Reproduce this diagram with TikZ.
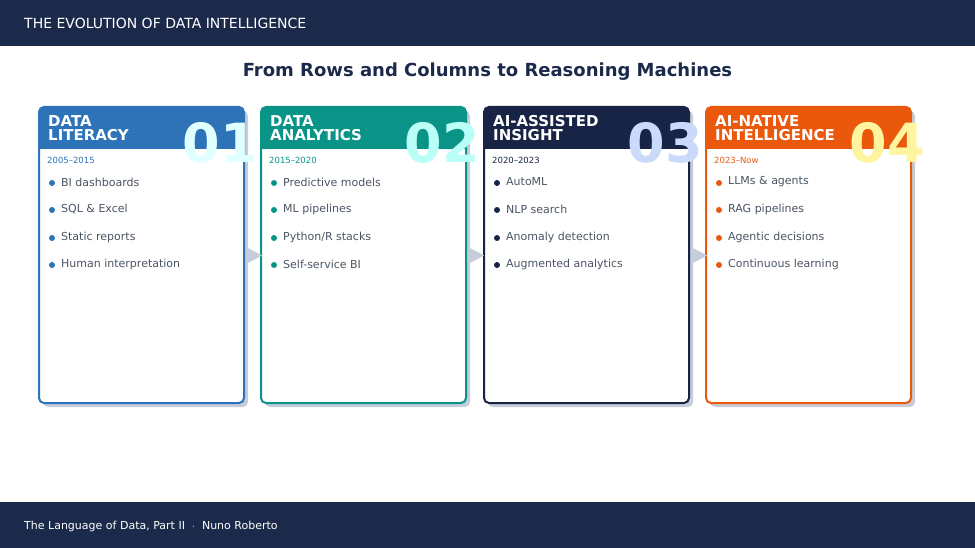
\documentclass[tikz,border=0pt]{standalone}
\usepackage{fontspec}
\setmainfont{DejaVu Sans}
\definecolor{navy}{HTML}{1B2A4A}
\definecolor{cblue}{HTML}{2E73B8}
\definecolor{cteal}{HTML}{0A9488}
\definecolor{cnavy}{HTML}{172445}
\definecolor{corange}{HTML}{EA580C}
\definecolor{txt}{HTML}{4B5563}
\definecolor{shad}{HTML}{C5CCDA}
\begin{document}
\begin{tikzpicture}[x=1pt,y=-1pt,
  hdrtext/.style={font=\bfseries\fontsize{15}{15}\selectfont,white,anchor=north west,align=left,inner sep=0},
  bul/.style={font=\fontsize{11}{11}\selectfont,text=txt,anchor=west,inner sep=0},
  datet/.style={font=\fontsize{8.5}{8.5}\selectfont,anchor=west,inner sep=0},
  num/.style={font=\bfseries\fontsize{54}{54}\selectfont,anchor=base east,inner sep=0},
  arr/.style={fill=shad,draw=none}]
\useasboundingbox (0,0) rectangle (975,548);
\fill[navy] (0,0) rectangle (975,46);
\fill[navy] (0,502) rectangle (975,548);
\node[font=\fontsize{14}{14}\selectfont,white,anchor=west,inner sep=0] (hdr) at (24,23) {THE EVOLUTION OF DATA INTELLIGENCE};
\node[font=\fontsize{11}{11}\selectfont,white,anchor=west,inner sep=0] (ftr) at (24,526) {The Language of Data, Part II \ $\cdot$ \ Nuno Roberto};
\node[font=\bfseries\fontsize{18}{18}\selectfont,text=navy,inner sep=0] (title) at (487.5,72) {From Rows and Columns to Reasoning Machines};
\foreach \x/\c/\nc/\la/\lb/\dt/\n/\ia/\ib/\ic/\id [count=\i] in {
 39/cblue/E0FFFF/DATA/LITERACY/2005–2015/01/BI dashboards/SQL \& Excel/Static reports/Human interpretation,
 261/cteal/B9FFF8/DATA/ANALYTICS/2015–2020/02/Predictive models/ML pipelines/Python\slash R stacks/Self-service BI,
 484/cnavy/C9DAFA/AI-ASSISTED/INSIGHT/2020–2023/03/AutoML/NLP search/Anomaly detection/Augmented analytics,
 706/corange/FEF59E/AI-NATIVE/INTELLIGENCE/2023–Now/04/LLMs \& agents/RAG pipelines/Agentic decisions/Continuous learning}{
 \definecolor{numc}{HTML}{\nc}
 \fill[shad,rounded corners=5pt] (\x+4,111) rectangle (\x+209,407);
 \fill[white,rounded corners=5pt] (\x,107) rectangle (\x+205,403);
 \fill[\c,rounded corners=5pt] (\x,107) rectangle (\x+205,125);
 \fill[\c] (\x,118) rectangle (\x+205,149);
 \draw[\c,line width=2pt,rounded corners=5pt] (\x,107) rectangle (\x+205,403);
 \node[hdrtext] (h\i) at (\x+9,115) {\la\\[-1pt]\lb};
 \node[num,text=numc] (n\i) at (\x+219,163) {\n};
 \node[datet,text=\c] (d\i) at (\x+8,160) {\dt};
 \foreach \t/\yy in {\ia/182,\ib/209,\ic/237,\id/264}{
   \fill[\c] (\x+13,\yy+1) circle (3pt);
   \node[bul] at (\x+22,\yy) {\t};
 }
}
\foreach \x/\a in {248/1,470/2,693/3}{
 \fill[arr] (\x,248) -- (\x+14,255.5) -- (\x,263) -- cycle;
}
\end{tikzpicture}
\end{document}
